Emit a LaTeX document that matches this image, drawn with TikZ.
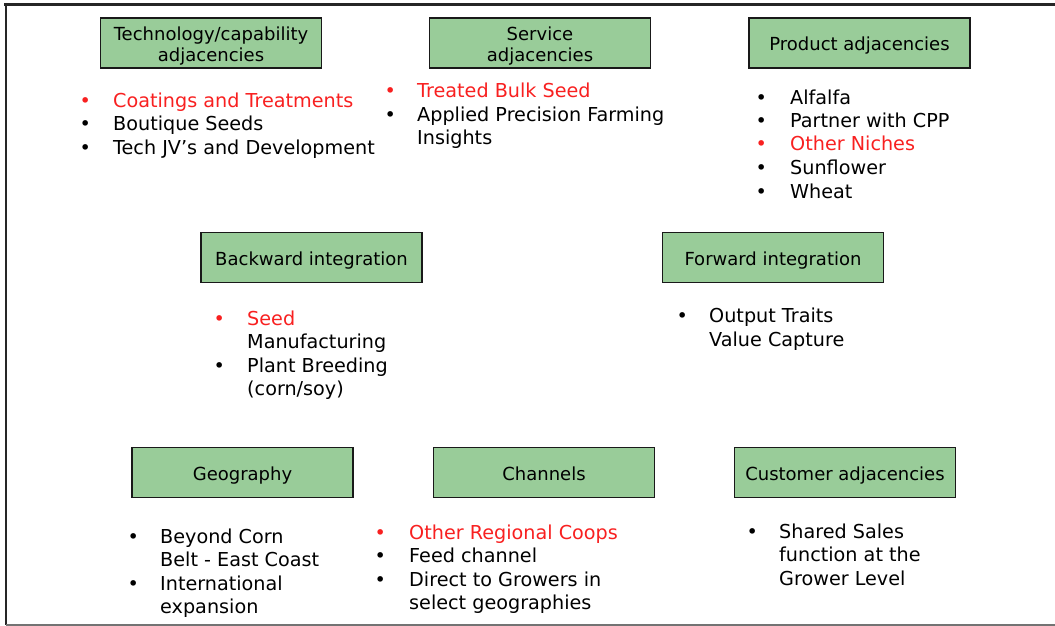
\documentclass[tikz,border=0pt]{standalone}
\usepackage{fontspec}
\setmainfont{DejaVu Sans}
\usepackage{xcolor}
\definecolor{boxgreen}{RGB}{153,204,153}
\definecolor{hired}{RGB}{248,32,32}
\newcommand{\bul}[1][black]{\makebox[14pt]{\textcolor{#1}{\textbullet}}}
\newcommand{\hi}[1]{\textcolor{hired}{#1}}
\newcommand{\topstrut}{\rule{0pt}{20.7pt}}

\tikzset{
  adjbox/.style={draw=black!90,line width=1.9pt,fill=boxgreen,minimum width=221pt,minimum height=50pt,inner sep=0pt,align=center,font=\fontsize{18}{21}\selectfont},
  oneline/.style={text height=16pt,text depth=1pt},
  itemlist/.style={anchor=base west,inner sep=0pt,font=\fontsize{19.2}{23.5}\selectfont}
}

\begin{document}
\begin{tikzpicture}[x=1pt,y=-1pt]
\useasboundingbox (0,0) rectangle (1055,626);

\draw[line width=3pt,black!85] (4,4.5) -- (1055,4.5); % top edge
\draw[line width=2.5pt,black!85] (6,3) -- (6,625); % left edge
\draw[line width=2pt,black!55] (6,625) -- (1055,625); % bottom edge

% top row
\node[adjbox] (techbox) at (211,43) {\topstrut Technology/capability\\adjacencies};
\node[adjbox] (servbox) at (540,43) {\topstrut Service\\adjacencies};
\node[adjbox,oneline] (prodbox) at (859.5,43) {Product adjacencies};

\node[itemlist] (techlist) at (78,107) {\begin{tabular}[t]{@{}l@{\hspace{21pt}}l@{}}
\bul[hired] & \hi{Coatings and Treatments}\\
\bul & Boutique Seeds\\
\bul & Tech JV’s and Development
\end{tabular}};
\node[itemlist] (servlist) at (383,98) {\begin{tabular}[t]{@{}l@{\hspace{20pt}}l@{}}
\bul[hired] & \hi{Treated Bulk Seed}\\
\bul & Applied Precision Farming\\
 & Insights
\end{tabular}};
\node[itemlist] (prodlist) at (754,104) {\begin{tabular}[t]{@{}l@{\hspace{22pt}}l@{}}
\bul & Alfalfa\\
\bul & Partner with CPP\\
\bul[hired] & \hi{Other Niches}\\
\bul & Sunflower\\
\bul & Wheat
\end{tabular}};

% middle row
\node[adjbox,oneline] (backbox) at (311.5,257.5) {Backward integration};
\node[adjbox,oneline] (fwdbox) at (773,257.5) {Forward integration};

\node[itemlist] (backlist) at (212,325) {\begin{tabular}[t]{@{}l@{\hspace{21pt}}l@{}}
\bul[hired] & \hi{Seed}\\
 & Manufacturing\\
\bul & Plant Breeding\\
 & (corn/soy)
\end{tabular}};
\node[itemlist] (fwdlist) at (675,322.7) {\begin{tabular}[t]{@{}l@{\hspace{20pt}}l@{}}
\bul & Output Traits\\
 & Value Capture
\end{tabular}};

% bottom row
\node[adjbox,oneline] (geobox) at (242.5,472.5) {Geography};
\node[adjbox,oneline] (chanbox) at (544,472.5) {Channels};
\node[adjbox,oneline] (custbox) at (845,472.5) {Customer adjacencies};

\node[itemlist] (geolist) at (126,543.3) {\begin{tabular}[t]{@{}l@{\hspace{20pt}}l@{}}
\bul & Beyond Corn\\
 & Belt - East Coast\\
\bul & International\\
 & expansion
\end{tabular}};
\node[itemlist] (chanlist) at (373,539.3) {\begin{tabular}[t]{@{}l@{\hspace{22pt}}l@{}}
\bul[hired] & \hi{Other Regional Coops}\\
\bul & Feed channel\\
\bul & Direct to Growers in\\
 & select geographies
\end{tabular}};
\node[itemlist] (custlist) at (745,538.3) {\begin{tabular}[t]{@{}l@{\hspace{20pt}}l@{}}
\bul & Shared Sales\\
 & function at the\\
 & Grower Level
\end{tabular}};

\end{tikzpicture}
\end{document}
